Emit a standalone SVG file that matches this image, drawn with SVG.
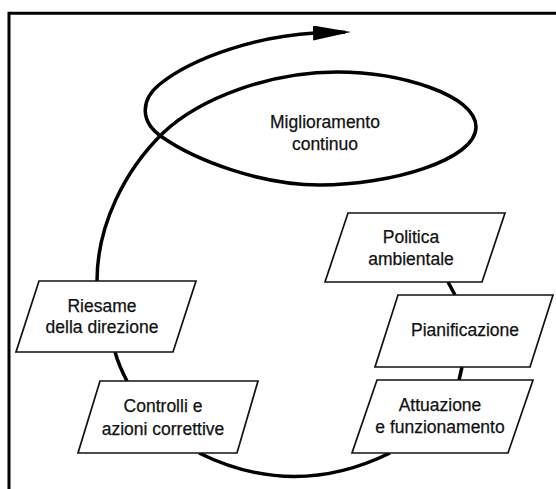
<svg xmlns="http://www.w3.org/2000/svg" width="556" height="489" viewBox="0 0 556 489">
  <defs>
    <style>
      .frame { fill: none; stroke: #000; stroke-width: 3; }
      .box { fill: #fff; stroke: #111; stroke-width: 1.7; stroke-linejoin: miter; }
      .conn { fill: none; stroke: #000; stroke-width: 3.5; stroke-linecap: butt; }
      .lbl { font-family: "Liberation Sans", Arial, Helvetica, sans-serif; font-size: 17.5px; fill: #111; stroke: #111; stroke-width: 0.25; text-anchor: middle; }
    </style>
    <marker id="arrow" markerUnits="userSpaceOnUse" viewBox="0 0 38 15" markerWidth="38" markerHeight="15" refX="32" refY="7.5" orient="auto">
      <path d="M0,0 L38,7.5 L0,15 z" fill="#000"/>
    </marker>
  </defs>
  <rect x="0" y="0" width="556" height="489" fill="#fff"/>
  <path class="frame" d="M9,489 V13.3 H560"/>

  <g id="connectors">
    <path id="spiral" class="conn" marker-end="url(#arrow)" d="M97,281 C97,225 125,170 163,133 C200,98 270,72 337,72 C400,72 476,95 476,127 C476,160 390,185 320,185 C260,185 195,160 162,137 C140,122 140,100 160,84 C195,56 260,36 315,33 L345,32.2"/>
    <path id="c-politica-pianificazione" class="conn" d="M448,282 L455,295"/>
    <path id="c-pianificazione-attuazione" class="conn" d="M462,367 L459,380"/>
    <path id="c-riesame-controlli" class="conn" d="M115,352 Q119,366 127,381"/>
    <path id="c-controlli-attuazione" class="conn" d="M199,453 Q294,500 390,453"/>
  </g>

  <g id="node-miglioramento">
    <text class="lbl" x="325" y="128">Miglioramento</text>
    <text class="lbl" x="325" y="150">continuo</text>
  </g>

  <g id="node-politica">
    <polygon class="box" points="348,213 505,213 482,282 325,282"/>
    <text class="lbl" x="411" y="243">Politica</text>
    <text class="lbl" x="411" y="265">ambientale</text>
  </g>

  <g id="node-pianificazione">
    <polygon class="box" points="398,295 553,295 530,367 375,367"/>
    <text class="lbl" x="465" y="336">Pianificazione</text>
  </g>

  <g id="node-attuazione">
    <polygon class="box" points="377,380 533,380 508,453 352,453"/>
    <text class="lbl" x="440" y="411">Attuazione</text>
    <text class="lbl" x="440" y="433">e funzionamento</text>
  </g>

  <g id="node-riesame">
    <polygon class="box" points="39,281 196,281 173,352 16,352"/>
    <text class="lbl" x="102" y="312">Riesame</text>
    <text class="lbl" x="102" y="333">della direzione</text>
  </g>

  <g id="node-controlli">
    <polygon class="box" points="100,381 258,381 237,453 78,453"/>
    <text class="lbl" x="163" y="412">Controlli e</text>
    <text class="lbl" x="163" y="435">azioni correttive</text>
  </g>
</svg>
